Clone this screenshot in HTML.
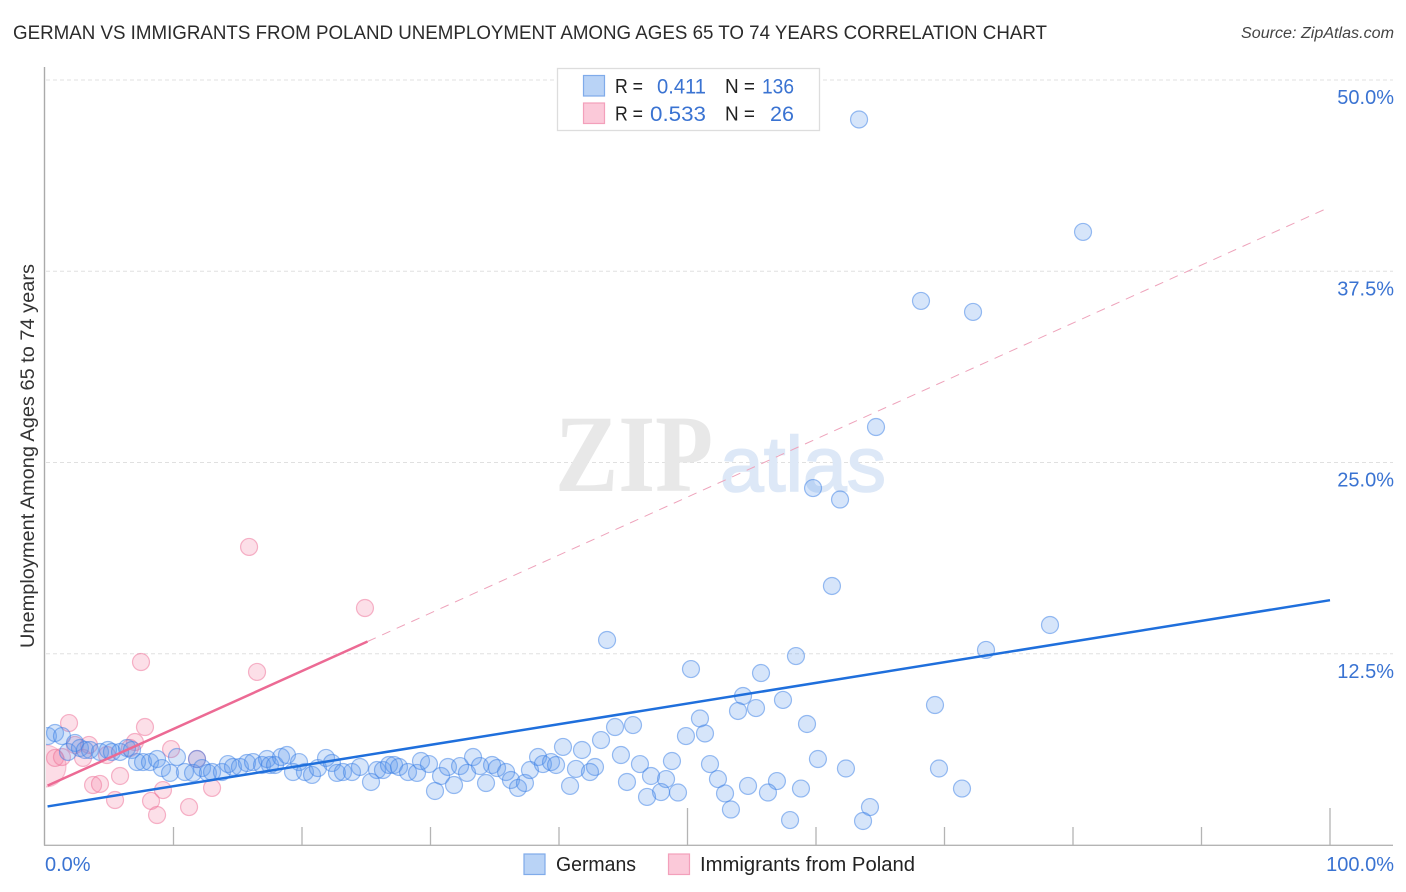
<!DOCTYPE html>
<html lang="en">
<head>
<meta charset="utf-8">
<title>German vs Immigrants from Poland Unemployment Correlation Chart</title>
<style>
html,body{margin:0;padding:0;background:#fff;}
body{width:1406px;height:892px;overflow:hidden;}
svg{display:block;font-family:"Liberation Sans",sans-serif;}
</style>
</head>
<body>
<svg id="chart" width="1406" height="892" viewBox="0 0 1406 892" xmlns="http://www.w3.org/2000/svg">
  <defs>
    <clipPath id="plot-clip"><rect x="46" y="67" width="1347" height="778"></rect></clipPath>
  </defs>
  <rect x="0" y="0" width="1406" height="892" fill="#fff"></rect>
  <text x="13" y="39" font-size="19.5" fill="#2b2b2b" textLength="1034" lengthAdjust="spacingAndGlyphs">GERMAN VS IMMIGRANTS FROM POLAND UNEMPLOYMENT AMONG AGES 65 TO 74 YEARS CORRELATION CHART</text>
  <text x="1241" y="38" font-size="15.5" font-style="italic" fill="#444" textLength="153" lengthAdjust="spacingAndGlyphs">Source: ZipAtlas.com</text>

  <g id="grid"></g>

  <g>
    <text x="555" y="491" font-family="'Liberation Serif',serif" font-weight="bold" font-size="110" fill="#e8e8e8" textLength="158" lengthAdjust="spacingAndGlyphs">ZIP</text>
    <text x="720" y="491" font-size="78" fill="#dde8f7" stroke="#dde8f7" stroke-width="1.6" textLength="166" lengthAdjust="spacingAndGlyphs">atlas</text>
  </g>

  <g id="points-poland" clip-path="url(#plot-clip)"></g>
  <g id="points-germans" clip-path="url(#plot-clip)"></g>
  <g id="trends"></g>

  <g id="axes"></g>

  <text transform="translate(34,456) rotate(-90)" font-size="19.5" fill="#333" text-anchor="middle" textLength="384" lengthAdjust="spacingAndGlyphs">Unemployment Among Ages 65 to 74 years</text>

  <g>
    <rect x="557.5" y="68.5" width="262" height="62" fill="#fff" stroke="#ddd" stroke-width="1.3"></rect>
    <rect x="583.5" y="75.5" width="21" height="20.5" fill="#b9d3f6" stroke="#7fabea" stroke-width="1.2"></rect>
    <rect x="583.5" y="103" width="21" height="20.5" fill="#fbc9d9" stroke="#f3a0bb" stroke-width="1.2"></rect>
    <g font-size="20" fill="#222">
      <text x="615" y="93" textLength="28" lengthAdjust="spacingAndGlyphs">R =</text>
      <text x="725" y="93" textLength="30" lengthAdjust="spacingAndGlyphs">N =</text>
      <text x="615" y="120.5" textLength="28" lengthAdjust="spacingAndGlyphs">R =</text>
      <text x="725" y="120.5" textLength="30" lengthAdjust="spacingAndGlyphs">N =</text>
    </g>
    <g font-size="21" fill="#3a73d2">
      <text x="657" y="93.5" textLength="49" lengthAdjust="spacingAndGlyphs">0.411</text>
      <text x="762" y="93.5" textLength="32" lengthAdjust="spacingAndGlyphs">136</text>
      <text x="650" y="121" textLength="56" lengthAdjust="spacingAndGlyphs">0.533</text>
      <text x="770" y="121" textLength="24" lengthAdjust="spacingAndGlyphs">26</text>
    </g>
  </g>

  <g>
    <rect x="524" y="854" width="21" height="20.5" fill="#b9d3f6" stroke="#7fabea" stroke-width="1.2"></rect>
    <text x="556" y="871" font-size="20" fill="#222" textLength="80" lengthAdjust="spacingAndGlyphs">Germans</text>
    <rect x="668.5" y="854" width="21" height="20.5" fill="#fbc9d9" stroke="#f3a0bb" stroke-width="1.2"></rect>
    <text x="700" y="871" font-size="20" fill="#222" textLength="215" lengthAdjust="spacingAndGlyphs">Immigrants from Poland</text>
  </g>
</svg>
<script>
const germansX = [63.35,80.78,68.17,72.22,64.67,59.77,61.87,61.24,78.21,43.74,73.23,58.44,50.27,55.72,54.32,57.43,53.93,55.33,69.26,50.97,59.30,45.76,44.36,49.88,51.36,43.27,40.31,41.79,44.82,60.15,48.79,46.30,51.75,62.33,69.57,52.37,47.16,48.33,56.96,54.71,58.83,71.36,45.29,52.92,56.26,49.26,47.94,46.85,53.38,64.20,57.98,63.66,
0.23,0.78,1.32,1.79,2.33,2.72,3.11,3.50,4.28,4.90,5.21,5.84,6.38,6.77,7.16,7.63,8.17,8.72,9.10,9.73,10.27,10.89,11.83,11.52,12.22,12.68,
13.00,13.77,14.24,14.63,15.17,15.72,16.19,16.89,17.28,17.51,17.90,18.37,18.83,19.77,19.30,20.23,20.78,21.24,21.87,22.33,22.72,23.19,23.89,24.51,
25.84,25.37,26.30,26.77,27.16,27.55,28.25,28.95,29.26,29.88,30.82,30.35,31.36,31.83,32.30,32.84,33.31,33.85,34.32,34.79,35.18,35.88,36.26,36.81,37.35,37.74,
38.37,38.75,39.38,39.77,41.32,42.80,42.41,40.86];
const germansY = [47.42,40.07,35.56,34.84,27.32,23.33,22.58,16.93,14.38,13.40,12.75,12.35,11.50,11.24,9.74,9.48,8.76,8.95,9.15,8.27,7.91,7.84,7.71,7.12,7.29,6.86,6.41,6.21,5.88,5.62,5.49,5.29,5.29,5.00,5.00,4.31,4.51,4.31,4.18,3.86,3.69,3.69,4.12,3.37,3.43,3.43,3.46,3.14,2.32,2.48,1.63,1.57,
7.12,7.32,7.12,6.08,6.67,6.34,6.21,6.21,6.08,6.21,6.08,6.08,6.34,6.21,5.42,5.42,5.42,5.62,5.03,4.71,5.75,4.77,5.62,4.71,5.03,4.71,
4.77,4.77,5.29,5.10,5.10,5.36,5.42,5.23,5.62,5.23,5.23,5.75,5.88,5.42,4.77,4.77,4.58,5.03,5.69,5.36,4.71,4.77,4.77,5.10,
4.90,4.12,4.90,5.23,5.23,5.10,4.77,4.71,5.49,5.29,4.51,3.53,5.10,3.92,5.16,4.71,5.75,5.16,4.05,5.23,5.03,4.77,4.25,3.73,4.05,4.90,
5.75,5.29,5.42,5.23,4.97,5.10,4.77,3.86];
const polandX = [1.87,7.78,7.00,3.42,9.81,11.83,0.78,1.32,2.96,5.84,3.74,4.28,9.18,5.45,8.25,11.21,8.72,13.00,15.88,24.90,7.47,16.50,2.33,6.61,4.82];
const polandY = [7.97,7.71,6.73,6.54,6.27,5.62,5.69,5.75,5.69,4.51,3.92,3.99,3.59,2.94,2.88,2.48,1.96,3.73,19.48,15.49,11.96,11.31,6.54,6.34,5.88];
const polandLargeX = [0];
const polandLargeY = [5.16];
const germansTrendX = [0.2,100];
const germansTrendY = [2.52,16.0];
const polandTrendX = [0.2,25.1];
const polandTrendY = [3.88,13.3];
const polandTrendExtX = [25.1,100];
const polandTrendExtY = [13.3,41.7];
const xTickValues = [10,20,30,40,50,60,70,80,90,100];
const xTickMajor = [50,100];
const xEndLabels = ["0.0%","100.0%"];
const yTickValues = [12.5,25,37.5,50];
const yTickLabels = ["12.5%","25.0%","37.5%","50.0%"];

const NS = "http://www.w3.org/2000/svg";
function sx(v){return 45 + v * 12.85;}
function sy(v){return 845 - v * 15.3;}
function make(parent, tag, attrs){
  const el = document.createElementNS(NS, tag);
  for (const k in attrs) el.setAttribute(k, attrs[k]);
  parent.appendChild(el);
  return el;
}

const grid = document.getElementById("grid");
yTickValues.forEach(function(v){
  const l = make(grid, "line", {x1:46, x2:1393, y1:sy(v), y2:sy(v), stroke:"#e0e0e0", "stroke-width":1, "stroke-dasharray":"4 3"});
  
  
});

const axes = document.getElementById("axes");
const yAxis = make(axes, "line", {x1:44.5, x2:44.5, y1:67, y2:845.5, stroke:"#aaa", "stroke-width":1.4});


const xAxis = make(axes, "line", {x1:44, x2:1393, y1:845.3, y2:845.3, stroke:"#b4b4b4", "stroke-width":1.4});


xTickValues.forEach(function(v){
  const top = xTickMajor.indexOf(v) >= 0 ? 808 : 827;
  const t = make(axes, "line", {x1:sx(v), x2:sx(v), y1:top, y2:845, stroke:"#b4b4b4", "stroke-width":1.3});
  
  
});
const xStart = make(axes, "text", {x:45, y:871, "font-size":20, fill:"#3a73d2"});
xStart.textContent = xEndLabels[0];


const xEnd = make(axes, "text", {x:1394, y:871, "font-size":20, fill:"#3a73d2", "text-anchor":"end"});
xEnd.textContent = xEndLabels[1];


yTickValues.forEach(function(v, i){
  const t = make(axes, "text", {x:1394, y:sy(v) + 24, "font-size":20, fill:"#3a73d2", "text-anchor":"end"});
  t.textContent = yTickLabels[i];
  
  
});

const polandGroup = document.getElementById("points-poland");
polandLargeX.forEach(function(v, i){
  const c = make(polandGroup, "circle", {cx:sx(v), cy:sy(polandLargeY[i]), r:21, fill:"rgba(244,130,165,0.28)", stroke:"rgba(238,110,150,0.4)", "stroke-width":1.2});
  
  
});
polandX.forEach(function(v, i){
  const c = make(polandGroup, "circle", {cx:sx(v), cy:sy(polandY[i]), r:8.5, fill:"rgba(244,130,165,0.26)", stroke:"rgba(238,110,150,0.5)", "stroke-width":1.2});
  
  
});
const germanGroup = document.getElementById("points-germans");
germansX.forEach(function(v, i){
  const c = make(germanGroup, "circle", {cx:sx(v), cy:sy(germansY[i]), r:8.5, fill:"rgba(90,150,235,0.25)", stroke:"rgba(55,125,230,0.5)", "stroke-width":1.2});
  
  
});

const trends = document.getElementById("trends");
const pinkDash = make(trends, "line", {x1:sx(polandTrendExtX[0]), y1:sy(polandTrendExtY[0]), x2:sx(polandTrendExtX[1]), y2:sy(polandTrendExtY[1]), stroke:"#eea3bb", "stroke-width":1, "stroke-dasharray":"9 7"});


const pink = make(trends, "line", {x1:sx(polandTrendX[0]), y1:sy(polandTrendY[0]), x2:sx(polandTrendX[1]), y2:sy(polandTrendY[1]), stroke:"#ec6a94", "stroke-width":2.5});


const blue = make(trends, "line", {x1:sx(germansTrendX[0]), y1:sy(germansTrendY[0]), x2:sx(germansTrendX[1]), y2:sy(germansTrendY[1]), stroke:"#1f6fdc", "stroke-width":2.5});


</script>
</body>
</html>
